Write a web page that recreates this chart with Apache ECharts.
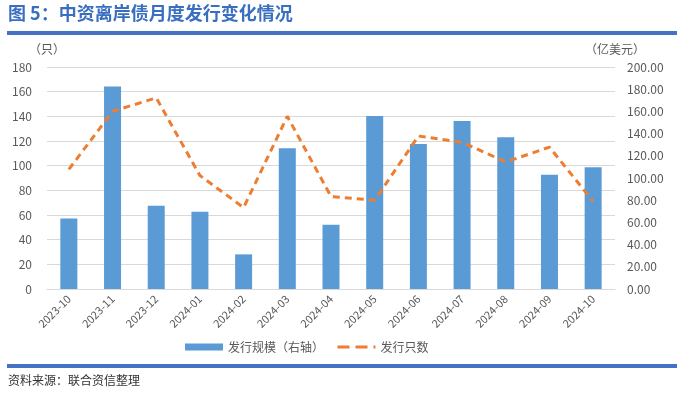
<!DOCTYPE html>
<html><head><meta charset="utf-8">
<script src="https://cdn.jsdelivr.net/npm/echarts@6/dist/echarts.min.js"></script>
<style>html,body{margin:0;padding:0;background:#fff;}#c{width:677px;height:393px;}</style>
</head><body><div id="c"></div>
<script>
const categories = ['2023-10','2023-11','2023-12','2024-01','2024-02','2024-03','2024-04','2024-05','2024-06','2024-07','2024-08','2024-09','2024-10'];
const issueAmount = [63.5, 182.5, 75.1, 69.7, 31.2, 126.7, 57.9, 155.9, 130.6, 151.4, 136.6, 103.0, 109.6];
const issueCount = [97, 144, 155, 92, 66, 140, 75, 72, 124, 119, 103, 115, 71];
const leftTicks = [0, 180, 20];
const rightTicks = [0, 200, 20];

const chart = echarts.init(document.getElementById('c'));
const font = '"Noto Sans CJK SC", sans-serif';
chart.setOption({
  animation: false,
  textStyle: { fontFamily: font },
  graphic: [
    { type: 'text', left: 8, top: 4, style: { text: '图 5：中资离岸债月度发行变化情况', fill: '#3a6fc0', font: 'bold 18px "Noto Sans CJK SC"' } },
    { type: 'rect', shape: { x: 7, y: 31, width: 670, height: 4 }, style: { fill: '#4472c4' } },
    { type: 'rect', shape: { x: 7, y: 364, width: 670, height: 4 }, style: { fill: '#4472c4' } },
    { type: 'text', left: 8, top: 374, style: { text: '资料来源：联合资信整理', fill: '#333', font: '12px "Noto Sans CJK SC"' } }
  ],
  grid: { left: 47, right: 62, top: 67, bottom: 104 },
  legend: {
    bottom: 35, left: 180, itemGap: 12, itemWidth: 38, itemHeight: 7,
    textStyle: { color: '#595959', fontSize: 12 },
    data: [
      { name: '发行规模（右轴）', icon: 'rect' },
      { name: '发行只数', itemStyle: { opacity: 0 }, lineStyle: { type: 'dashed', width: 3 } }
    ]
  },
  xAxis: {
    type: 'category', data: categories,
    axisLine: { lineStyle: { color: '#d9d9d9' } },
    axisTick: { show: false },
    axisLabel: { rotate: 45, color: '#595959', fontSize: 11, margin: 8 }
  },
  yAxis: [
    { type: 'value', min: leftTicks[0], max: leftTicks[1], interval: leftTicks[2],
      name: '（只）', nameLocation: 'end', nameGap: 12, nameTextStyle: { color: '#595959', fontSize: 12, align: 'center' },
      axisLine: { show: false }, axisTick: { show: false },
      axisLabel: { color: '#595959', fontSize: 12, margin: 15 },
      splitLine: { lineStyle: { color: '#d9d9d9' } } },
    { type: 'value', min: rightTicks[0], max: rightTicks[1], interval: rightTicks[2],
      name: '（亿美元）', nameLocation: 'end', nameGap: 12, nameTextStyle: { color: '#595959', fontSize: 12, align: 'center' },
      axisLine: { show: false }, axisTick: { show: false },
      axisLabel: { color: '#595959', fontSize: 12, margin: 12, formatter: v => v.toFixed(2) },
      splitLine: { show: false } }
  ],
  series: [
    { name: '发行规模（右轴）', type: 'bar', yAxisIndex: 1, data: issueAmount, barWidth: 17, itemStyle: { color: '#5b9bd5' } },
    { name: '发行只数', type: 'line', yAxisIndex: 0, data: issueCount, symbol: 'none',
      lineStyle: { color: '#ed7d31', width: 3, type: [7, 5] }, itemStyle: { color: '#ed7d31' } }
  ]
});
</script></body></html>
